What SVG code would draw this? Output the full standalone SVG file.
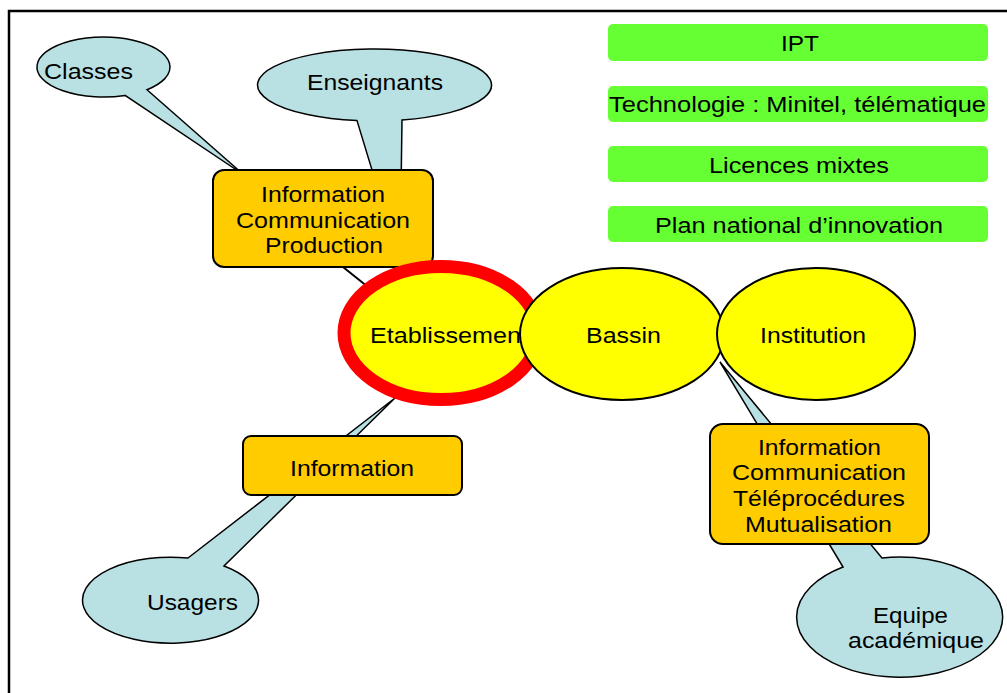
<svg xmlns="http://www.w3.org/2000/svg" width="1007" height="693" viewBox="0 0 1007 693">
<style>
text{font-family:"Liberation Sans",Arial,sans-serif;font-size:21.5px;fill:#000}
.callout{fill:#B9E0E3;stroke:#000;stroke-width:1.5;stroke-linejoin:miter}
.box{fill:#FFCC00;stroke:#000;stroke-width:2}
.green{fill:#66FF33}
.yel{fill:#FFFF00;stroke:#000;stroke-width:2}
</style>
<rect width="1007" height="693" fill="#fff"/>
<path d="M9,700 V11 H1010" fill="none" stroke="#000" stroke-width="2.5"/>

<g id="connectors">
<line x1="343" y1="267" x2="368" y2="287" stroke="#000" stroke-width="2"/>
</g>

<g id="classes">
<path class="callout" d="M147,89.7 L244,175 L125,95.4 A66.5 30 0 1 1 147,89.7 Z"/>
<text x="44" y="79" textLength="89" lengthAdjust="spacingAndGlyphs">Classes</text>
</g>
<g id="enseignants">
<path class="callout" d="M402,120 L400,262 L357,120.6 A117 36 0 1 1 402,120 Z"/>
<text x="307" y="90" textLength="136" lengthAdjust="spacingAndGlyphs">Enseignants</text>
</g>
<g id="usagers">
<path class="callout" d="M188,558 L395,398 L224,566 A88 43 0 1 1 188,558 Z"/>
<text x="147" y="610" textLength="91" lengthAdjust="spacingAndGlyphs">Usagers</text>
</g>
<g id="equipe">
<path class="callout" d="M843,567 L720,362 L882,558 A103 60 0 1 1 843,567 Z"/>
<text x="873" y="623" textLength="75" lengthAdjust="spacingAndGlyphs">Equipe</text>
<text x="848" y="648" textLength="136" lengthAdjust="spacingAndGlyphs">académique</text>
</g>

<g id="box-icp">
<rect class="box" x="213" y="170" width="220" height="97" rx="11"/>
<text x="261" y="202" textLength="124" lengthAdjust="spacingAndGlyphs">Information</text>
<text x="236" y="228" textLength="174" lengthAdjust="spacingAndGlyphs">Communication</text>
<text x="265" y="253" textLength="118" lengthAdjust="spacingAndGlyphs">Production</text>
</g>
<g id="box-info">
<rect class="box" x="243" y="436" width="219" height="59" rx="8"/>
<text x="290" y="476" textLength="124" lengthAdjust="spacingAndGlyphs">Information</text>
</g>
<g id="box-ictm">
<rect class="box" x="710" y="424" width="219" height="120" rx="13"/>
<text x="758" y="455" textLength="123" lengthAdjust="spacingAndGlyphs">Information</text>
<text x="732" y="480" textLength="174" lengthAdjust="spacingAndGlyphs">Communication</text>
<text x="733" y="506" textLength="172" lengthAdjust="spacingAndGlyphs">Téléprocédures</text>
<text x="745" y="532" textLength="147" lengthAdjust="spacingAndGlyphs">Mutualisation</text>
</g>

<g id="etablissement">
<ellipse cx="441" cy="333" rx="97" ry="66.5" fill="#FFFF00" stroke="#FF0000" stroke-width="13"/>
<text x="370" y="343" textLength="158" lengthAdjust="spacingAndGlyphs">Etablissement</text>
</g>
<g id="bassin">
<ellipse class="yel" cx="622" cy="334" rx="102" ry="66"/>
<text x="586" y="343" textLength="75" lengthAdjust="spacingAndGlyphs">Bassin</text>
</g>
<g id="institution">
<ellipse class="yel" cx="816" cy="334" rx="99" ry="66"/>
<text x="760" y="343" textLength="106" lengthAdjust="spacingAndGlyphs">Institution</text>
</g>

<g id="ipt">
<rect class="green" x="608" y="24" width="380" height="37" rx="5"/>
<text x="781" y="51" textLength="38" lengthAdjust="spacingAndGlyphs">IPT</text>
</g>
<g id="technologie">
<rect class="green" x="608" y="86" width="380" height="36" rx="5"/>
<text x="609" y="112" textLength="377" lengthAdjust="spacingAndGlyphs">Technologie : Minitel, télématique</text>
</g>
<g id="licences">
<rect class="green" x="608" y="146" width="380" height="36" rx="5"/>
<text x="709" y="173" textLength="180" lengthAdjust="spacingAndGlyphs">Licences mixtes</text>
</g>
<g id="plan">
<rect class="green" x="608" y="206" width="380" height="36" rx="5"/>
<text x="655" y="233" textLength="288" lengthAdjust="spacingAndGlyphs">Plan national d’innovation</text>
</g>
</svg>
